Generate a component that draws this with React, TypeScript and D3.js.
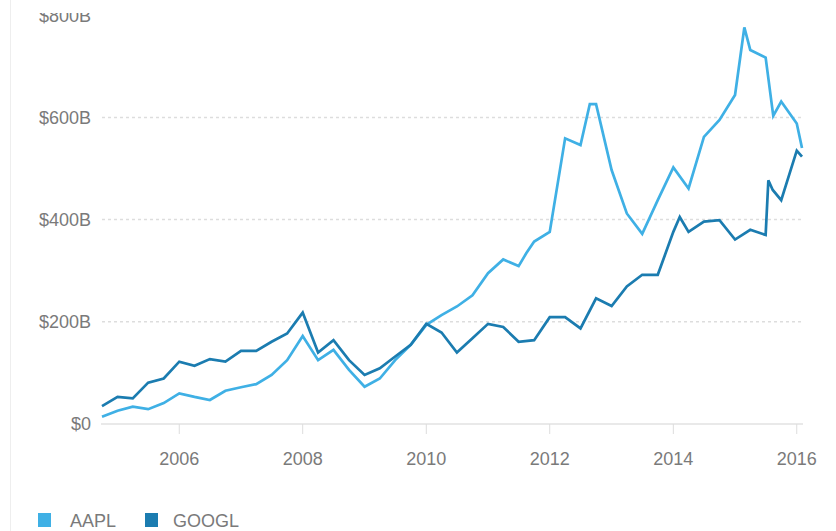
import React from "react";
import * as d3 from "d3";

const aaplDates = [
  "2004-10-01","2005-01-01","2005-04-01","2005-07-01","2005-10-01","2006-01-01","2006-04-01","2006-07-01",
  "2006-10-01","2007-01-01","2007-04-01","2007-07-01","2007-10-01","2008-01-01","2008-04-01","2008-07-01",
  "2008-10-01","2009-01-01","2009-04-01","2009-07-01","2009-10-01","2010-01-01","2010-04-01","2010-07-01",
  "2010-10-01","2011-01-01","2011-04-01","2011-07-01","2011-08-15","2011-10-01","2012-01-01","2012-04-01",
  "2012-07-01","2012-08-25","2012-10-01","2013-01-01","2013-04-01","2013-07-01","2013-10-01","2014-01-01",
  "2014-04-01","2014-07-01","2014-10-01","2015-01-01","2015-02-25","2015-04-01","2015-07-01","2015-08-15",
  "2015-10-01","2016-01-01","2016-02-01"
];
const aaplValues = [
  14, 26, 34, 29, 41, 60, 53, 47,
  65, 72, 78, 96, 125, 172, 125, 145,
  106, 73, 89, 125, 155, 194, 213, 230,
  252, 295, 322, 309, 334, 357, 376, 559,
  546, 626, 626, 497, 412, 372, 438, 502,
  461, 562, 595, 644, 776, 732, 717, 603,
  631, 588, 540
];

const googlDates = [
  "2004-10-01","2005-01-01","2005-04-01","2005-07-01","2005-10-01","2006-01-01","2006-04-01","2006-07-01",
  "2006-10-01","2007-01-01","2007-04-01","2007-07-01","2007-10-01","2008-01-01","2008-04-01","2008-07-01",
  "2008-10-01","2009-01-01","2009-04-01","2009-07-01","2009-10-01","2010-01-01","2010-04-01","2010-07-01",
  "2010-10-01","2011-01-01","2011-04-01","2011-07-01","2011-10-01","2012-01-01","2012-04-01","2012-07-01",
  "2012-10-01","2013-01-01","2013-04-01","2013-07-01","2013-10-01","2014-01-01","2014-02-08","2014-04-01",
  "2014-07-01","2014-10-01","2015-01-01","2015-04-01","2015-07-01","2015-07-17","2015-08-12","2015-10-01",
  "2016-01-01","2016-02-01"
];
const googlValues = [
  35, 53, 50, 81, 89, 122, 114, 127,
  122, 143, 143, 161, 177, 218, 140, 164,
  125, 96, 109, 132, 155, 196, 179, 140,
  168, 196, 190, 161, 164, 209, 209, 187,
  246, 231, 269, 292, 292, 376, 405, 376,
  396, 399, 361, 380, 370, 477, 458, 438,
  535, 523
];

const yTicks = [0, 200, 400, 600, 800];
const xTickYears = [2006, 2008, 2010, 2012, 2014, 2016];
const seriesNames = ["AAPL", "GOOGL"];
const seriesColors = ["#3fb0e5", "#1b7cb0"];

const W = 836;
const H = 531;
const FONT = "'Liberation Sans', Arial, Helvetica, sans-serif";
const TEXT = "#7a7a7a";

export default function App() {
  const parse = d3.timeParse("%Y-%m-%d");
  const x = d3
    .scaleTime()
    .domain([parse("2004-10-01")!, parse("2016-02-01")!])
    .range([102, 802]);
  const y = d3.scaleLinear().domain([0, 800]).range([424, 15.2]);

  const line = d3
    .line<[Date, number]>()
    .x((d) => x(d[0]))
    .y((d) => y(d[1]))
    .curve(d3.curveLinear);

  const aapl: [Date, number][] = aaplDates.map((d, i) => [parse(d)!, aaplValues[i]]);
  const googl: [Date, number][] = googlDates.map((d, i) => [parse(d)!, googlValues[i]]);

  const [x0, x1] = x.range();
  const fmt = (v: number) => (v === 0 ? "$0" : `$${v}B`);
  const legendX = [38, 145];
  const legendTextX = [70, 173];

  return (
    <div style={{ position: "absolute", left: 0, top: 0 }}>
      <svg width={W} height={H} style={{ display: "block", background: "#fff" }}>
        <defs>
          <clipPath id="topclip">
            <rect x={0} y={13} width={W} height={H - 13} />
          </clipPath>
        </defs>
        <line x1={10.5} x2={10.5} y1={0} y2={H} stroke="#eeeeee" strokeWidth={1} />
        <g clipPath="url(#topclip)">
          {yTicks.map((t) => (
            <g key={t}>
              {t > 0 && t < 800 && (
                <line
                  x1={x0}
                  x2={x1 + 1}
                  y1={y(t)}
                  y2={y(t)}
                  stroke="#dddddd"
                  strokeWidth={1.5}
                  strokeDasharray="3,3"
                />
              )}
              <text
                x={91}
                y={y(t)}
                dy="0.35em"
                textAnchor="end"
                fontFamily={FONT}
                fontSize={18}
                fill={TEXT}
              >
                {fmt(t)}
              </text>
            </g>
          ))}
        </g>
        <line x1={x0 - 1} x2={x1 + 1} y1={y(0)} y2={y(0)} stroke="#e2e2e2" strokeWidth={1.5} />
        {xTickYears.map((yr) => {
          const px = x(new Date(yr, 0, 1));
          return (
            <g key={yr}>
              <line x1={px} x2={px} y1={y(0)} y2={y(0) + 10} stroke="#dddddd" strokeWidth={1} />
              <text
                x={px}
                y={464.5}
                textAnchor="middle"
                fontFamily={FONT}
                fontSize={18}
                fill={TEXT}
              >
                {yr}
              </text>
            </g>
          );
        })}
        <path d={line(aapl) || ""} fill="none" stroke={seriesColors[0]} strokeWidth={2.7} strokeLinejoin="miter" />
        <path d={line(googl) || ""} fill="none" stroke={seriesColors[1]} strokeWidth={2.7} strokeLinejoin="miter" />
        {seriesNames.map((name, i) => (
          <g key={name}>
            <rect x={legendX[i]} y={513} width={13} height={14} fill={seriesColors[i]} />
            <text x={legendTextX[i]} y={527} fontFamily={FONT} fontSize={18} fill={TEXT}>
              {name}
            </text>
          </g>
        ))}
      </svg>
    </div>
  );
}
